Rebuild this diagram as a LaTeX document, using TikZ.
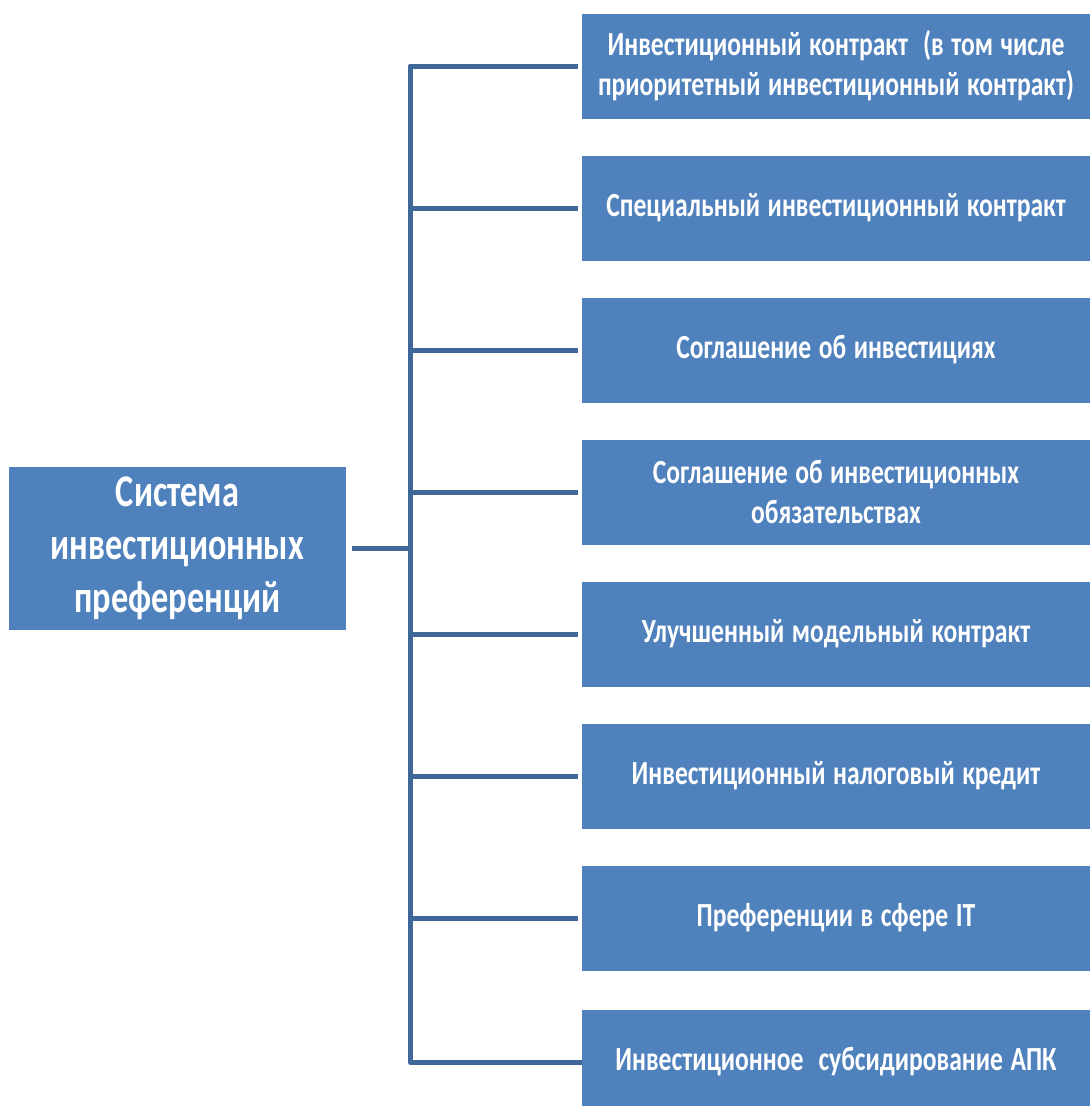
\documentclass[tikz,border=0pt]{standalone}
\usepackage{fontspec}
\usepackage{graphicx}
\setmainfont{Carlito}[WordSpace=1.3]
\newcommand\vst[1]{\scalebox{1}[1.32]{#1}}
\begin{document}
\begin{tikzpicture}[x=1pt,y=-1pt,
  rbox/.style={draw=none,fill=boxblue,minimum width=508pt,minimum height=105pt,inner sep=0pt,text=white,
    font=\fontsize{25.6}{40}\selectfont\bfseries,align=center},
  lbox/.style={draw=none,fill=boxblue,minimum width=337pt,minimum height=163pt,inner sep=0pt,text=white,
    font=\fontsize{34.3}{53}\selectfont\bfseries,align=center},
  conn/.style={draw=lineblue,line width=5pt,line join=round}]
\definecolor{boxblue}{HTML}{4F81BD}
\definecolor{lineblue}{HTML}{3F6797}
\useasboundingbox (0,0) rectangle (1090,1106);
\clip (0,0) rectangle (1090,1106);
\node[lbox] (sys) at (177.5,548.5) {\vst{Система}\\\vst{инвестиционных}\\\vst{преференций}};
\node[rbox] (r1) at (836,66) {\vst{Инвестиционный контракт\ \ (в том числе}\\\vst{приоритетный инвестиционный контракт)}};
\node[rbox] (r2) at (836,208) {\vst{Специальный инвестиционный контракт}};
\node[rbox] (r3) at (836,350) {\vst{Соглашение об инвестициях}};
\node[rbox] (r4) at (836,492) {\vst{Соглашение об инвестиционных}\\\vst{обязательствах}};
\node[rbox] (r5) at (836,634) {\vst{Улучшенный модельный контракт}};
\node[rbox] (r6) at (836,776) {\vst{Инвестиционный налоговый кредит}};
\node[rbox] (r7) at (836,918) {\vst{Преференции в сфере IT}};
\node[rbox] (r8) at (836,1062) {\vst{Инвестиционное\ \ субсидирование АПК}};
\coordinate (trunk) at (410,548.5);
\draw[conn,shorten <=4pt] (r1.west) -- (trunk |- r1.west) -- (trunk |- r8.west) -- (r8.west);
\foreach \i in {2,...,7} {\draw[conn,shorten >=4pt] (trunk |- r\i.west) -- (r\i.west);}
\draw[conn,shorten <=6pt] (sys.east) -- (trunk);
\end{tikzpicture}
\end{document}
